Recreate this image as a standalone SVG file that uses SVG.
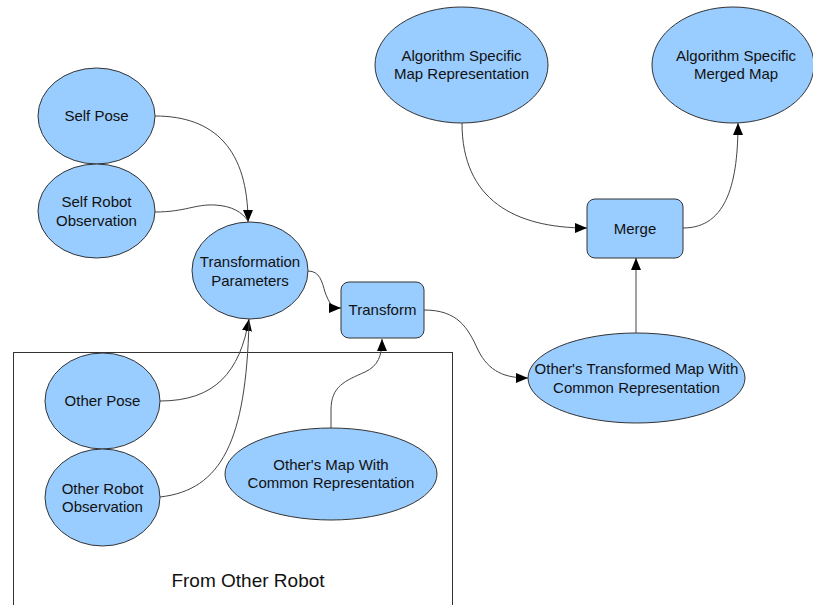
<svg xmlns="http://www.w3.org/2000/svg" width="813" height="605" viewBox="0 0 813 605">
  <style>
    .node { fill: #99ccff; stroke: #333333; stroke-width: 1; }
    .label { font-family: "Liberation Sans", Arial, sans-serif; font-size: 15px; fill: #111111; text-anchor: middle; }
    .edge { fill: none; stroke: #444444; stroke-width: 1; }
    .frame { fill: none; stroke: #333333; stroke-width: 1; }
  </style>
  <defs>
    <marker id="arrow" viewBox="0 0 12 10" refX="12" refY="5" markerWidth="12" markerHeight="10" markerUnits="userSpaceOnUse" orient="auto">
      <path d="M0,0 L12,5 L0,10 Z" fill="#000000"/>
    </marker>
  </defs>
  <rect width="813" height="605" fill="#ffffff"/>

  <!-- group boundary for inputs received from the other robot -->
  <g id="from-other-robot">
    <rect class="frame" x="13.5" y="352.5" width="439" height="270"/>
    <text class="label" x="248" y="587" style="font-size:19px">From Other Robot</text>
  </g>

  <!-- connectors -->
  <g id="connectors">
    <path class="edge" d="M155,116 C215,116 248,150 248,222" marker-end="url(#arrow)"/>
    <path class="edge" d="M155,212 C185,212 195,204 215,205 C232,206 242,212 248,221"/>
    <path class="edge" d="M308,271 C320,271 322,282 325,292 C329,303 332,308 341,308" marker-end="url(#arrow)"/>
    <path class="edge" d="M424,310 C458,310 468,328 478,350 C489,372 505,378 528,378" marker-end="url(#arrow)"/>
    <path class="edge" d="M636,333 L636,258" marker-end="url(#arrow)"/>
    <path class="edge" d="M462,123 C462,200 515,228 587,228" marker-end="url(#arrow)"/>
    <path class="edge" d="M683,228 C728,228 738,180 738,123" marker-end="url(#arrow)"/>
    <path class="edge" d="M160,401 C215,401 240,372 249,319" marker-end="url(#arrow)"/>
    <path class="edge" d="M160,497 C222,490 246,440 249,322"/>
    <path class="edge" d="M331,428 L331,410 C331,386 345,381 365,372 C378,366 382,356 382,339" marker-end="url(#arrow)"/>
  </g>

  <g id="self-pose">
    <ellipse class="node" cx="96.5" cy="116" rx="58.5" ry="48"/>
    <text class="label" x="96.5" y="121">Self Pose</text>
  </g>
  <g id="self-robot-observation">
    <ellipse class="node" cx="96.5" cy="211" rx="58.5" ry="47"/>
    <text class="label" x="96.5" y="207">Self Robot</text>
    <text class="label" x="96.5" y="225.5">Observation</text>
  </g>
  <g id="transformation-parameters">
    <ellipse class="node" cx="250" cy="270.5" rx="58" ry="48.5"/>
    <text class="label" x="250" y="267">Transformation</text>
    <text class="label" x="250" y="285.5">Parameters</text>
  </g>
  <g id="transform">
    <rect class="node" x="341" y="282" width="83" height="56" rx="8" ry="8"/>
    <text class="label" x="382.5" y="315">Transform</text>
  </g>
  <g id="other-pose">
    <ellipse class="node" cx="102.5" cy="401" rx="57.5" ry="48"/>
    <text class="label" x="102.5" y="406">Other Pose</text>
  </g>
  <g id="other-robot-observation">
    <ellipse class="node" cx="102.5" cy="497.5" rx="57.5" ry="48.5"/>
    <text class="label" x="102.5" y="493.5">Other Robot</text>
    <text class="label" x="102.5" y="512">Observation</text>
  </g>
  <g id="others-map">
    <ellipse class="node" cx="331" cy="474" rx="106" ry="46"/>
    <text class="label" x="331" y="469.5">Other's Map With</text>
    <text class="label" x="331" y="488">Common Representation</text>
  </g>
  <g id="others-transformed-map">
    <ellipse class="node" cx="636.5" cy="378" rx="108.5" ry="45"/>
    <text class="label" x="636.5" y="374">Other's Transformed Map With</text>
    <text class="label" x="636.5" y="392.5">Common Representation</text>
  </g>
  <g id="merge">
    <rect class="node" x="587" y="199" width="96" height="59" rx="8" ry="8"/>
    <text class="label" x="635" y="233.5">Merge</text>
  </g>
  <g id="map-representation">
    <ellipse class="node" cx="461.5" cy="65" rx="86.5" ry="58"/>
    <text class="label" x="461.5" y="60.5">Algorithm Specific</text>
    <text class="label" x="461.5" y="79">Map Representation</text>
  </g>
  <g id="merged-map">
    <ellipse class="node" cx="733" cy="65" rx="81" ry="58"/>
    <text class="label" x="736" y="60.5">Algorithm Specific</text>
    <text class="label" x="736" y="79">Merged Map</text>
  </g>
</svg>
